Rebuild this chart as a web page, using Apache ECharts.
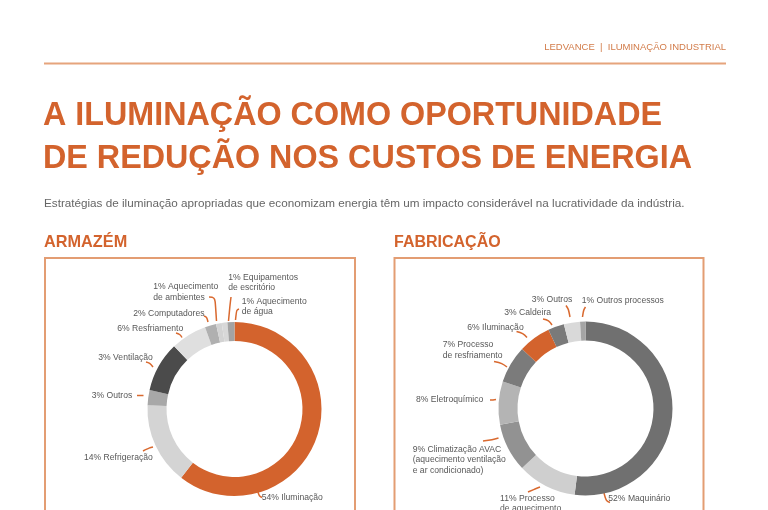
<!DOCTYPE html>
<html>
<head>
<meta charset="utf-8">
<script src="https://cdn.jsdelivr.net/npm/echarts@6/dist/echarts.min.js"></script>
<style>
html,body{margin:0;padding:0;background:#fff;}
#c{width:768px;height:510px;}
</style>
</head>
<body>
<div id="c"></div>
<script>
// ---- data ----
const warehouseNames = ['Iluminação','Refrigeração','Outros','Ventilação','Resfriamento','Computadores','Aquecimento\nde ambientes','Equipamentos\nde escritório','Aquecimento\nde água'];
const warehouseLabelPct = ['54%','14%','3%','3%','6%','2%','1%','1%','1%'];
const warehouseArc = [60.5, 15.2, 2.8, 9.3, 6.7, 2.1, 1.05, 1.05, 1.3];

const factoryNames = ['Maquinário','Processo\nde aquecimento','Climatização AVAC\n(aquecimento ventilação\ne ar condicionado)','Eletroquímico','Processo\nde resfriamento','Iluminação','Caldeira','Outros','Outros processos'];
const factoryLabelPct = ['52%','11%','9%','8%','7%','6%','3%','3%','1%'];
const factoryArc = [52, 11, 9, 8, 7, 6, 3, 3, 1];

// ---- styles / layout ----
const ORANGE = '#d3632d';
const warehouseColors = [ORANGE,'#d4d4d4','#a8a8a8','#4b4b4b','#dfdfdf','#b0b0b0','#d3d3d3','#d8d8d8','#a3a3a3'];
const factoryColors = ['#707070','#cfcfcf','#929292','#b4b4b4','#7b7b7b',ORANGE,'#7a7a7a','#d9d9d9','#a5a5a5'];

// label anchors (left x, middle y) and connector strokes
const warehouseLabelLayout = [
  {x:261.7, y:497.5, line:[[257.5,490.5],[259,496],[262,497.5]]},
  {x:84, y:458, line:[[143,451],[149,448],[153,447]]},
  {x:91.7, y:395.5, line:[[137,395.5],[140,395.5],[143.5,395.5]]},
  {x:98.3, y:358, line:[[146,362],[150,363],[153,367]]},
  {x:117.3, y:329, line:[[176,333],[180,334],[182,337.5]]},
  {x:133.3, y:314, line:[[204,316],[207,317],[208,322]]},
  {x:153.3, y:292, line:[[209,297],[215,297],[216.5,321]]},
  {x:228.3, y:282.5, line:[[231,297],[230,305],[228.5,321]]},
  {x:241.7, y:306.5, line:[[239,309],[236.5,310],[235.5,320]]}
];
const factoryLabelLayout = [
  {x:608.3, y:498.5, line:[[604,493],[606,501],[610,502.5]]},
  {x:500, y:503.5, line:[[528,492],[535,489],[540,487]]},
  {x:412.7, y:460, line:[[483,441],[492,440],[498.5,438]]},
  {x:416, y:399.5, line:[[490,400],[493,400],[496,399.5]]},
  {x:442.7, y:350, line:[[494,361.5],[502,363],[507,367]]},
  {x:467.3, y:327.5, line:[[516.5,331.5],[523,333],[527,337.5]]},
  {x:504.3, y:313, line:[[543,319],[549,320],[552,325]]},
  {x:531.7, y:300, line:[[566,305.5],[568.5,309],[570,317]]},
  {x:581.7, y:301, line:[[585.5,307],[583.5,310],[582.5,317]]}
];

function buildData(names, pct, arc, colors){
  return names.map((n,i)=>({
    name: n, value: arc[i],
    itemStyle:{color: colors[i]}
  }));
}

function pieSeries(center, names, pct, arc, colors, layout){
  return {
    type:'pie',
    center: center,
    radius:[68,87],
    startAngle:90,
    clockwise:true,
    avoidLabelOverlap:false,
    silent:true,
    itemStyle:{borderWidth:0},
    label:{
      show:true,
      position:'outside',
      formatter:(p)=>{
        const lines = p.name.split('\n');
        lines[0] = pct[p.dataIndex] + ' ' + lines[0];
        return lines.join('\n');
      },
      fontFamily:'Liberation Sans, Arial, sans-serif',
      fontSize:8.6,
      lineHeight:10.5,
      color:'#585858',
      align:'left'
    },
    labelLine:{
      show:true,
      smooth:0.4,
      lineStyle:{color:'#d9692f', width:1.5}
    },
    labelLayout:(params)=>{
      const L = layout[params.dataIndex];
      return {x:L.x, y:L.y, align:'left', verticalAlign:'middle', labelLinePoints:L.line};
    },
    data: buildData(names, pct, arc, colors)
  };
}

const chart = echarts.init(document.getElementById('c'), null, {renderer:'canvas'});
const FONT = 'Liberation Sans, Arial, sans-serif';
chart.setOption({
  animation:false,
  backgroundColor:'#ffffff',
  graphic:[
    {type:'text', right:42, top:42, style:{text:'LEDVANCE  |  ILUMINAÇÃO INDUSTRIAL', fill:'#d27c4a', font:'9.5px '+FONT}},
    {type:'line', shape:{x1:44,y1:63.5,x2:726,y2:63.5}, style:{stroke:'#e6a47c', lineWidth:2}},
    {type:'text', left:43, top:100, style:{text:'A ILUMINAÇÃO COMO OPORTUNIDADE', fill:ORANGE, font:'bold 32.3px '+FONT}},
    {type:'text', left:43, top:143, style:{text:'DE REDUÇÃO NOS CUSTOS DE ENERGIA', fill:ORANGE, font:'bold 32.3px '+FONT}},
    {type:'text', left:44, top:198, style:{text:'Estratégias de iluminação apropriadas que economizam energia têm um impacto considerável na lucratividade da indústria.', fill:'#666666', font:'11.7px '+FONT}},
    {type:'text', left:44, top:235, style:{text:'ARMAZÉM', fill:ORANGE, font:'bold 16.3px '+FONT}},
    {type:'text', left:394, top:235, style:{text:'FABRICAÇÃO', fill:ORANGE, font:'bold 16px '+FONT}},
    {type:'rect', shape:{x:45,y:258,width:310,height:280}, style:{fill:'none', stroke:'#e39d73', lineWidth:2}},
    {type:'rect', shape:{x:394.5,y:258,width:309,height:280}, style:{fill:'none', stroke:'#e39d73', lineWidth:2}}
  ],
  series:[
    pieSeries([234.5,409], warehouseNames, warehouseLabelPct, warehouseArc, warehouseColors, warehouseLabelLayout),
    pieSeries([585.5,408.5], factoryNames, factoryLabelPct, factoryArc, factoryColors, factoryLabelLayout)
  ]
});
</script>
</body>
</html>
